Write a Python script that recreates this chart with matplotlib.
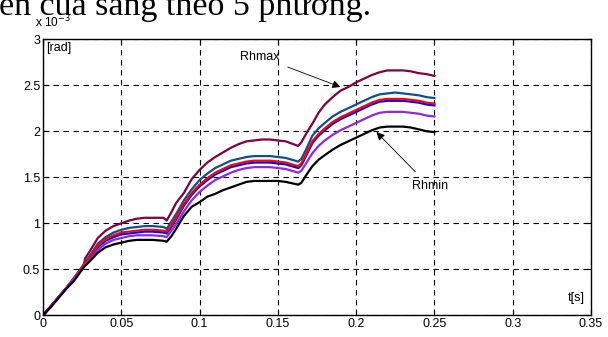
import matplotlib
matplotlib.use("Agg")
from matplotlib import pyplot as plt
import numpy as np

t = [0, .005, .01, .015, .02, .026, .027, .03, .035, .04, .045, .05, .055, .06, .065, .07,
     .077, .079, .082, .085, .09, .095, .1, .105, .11, .115, .12, .125, .13, .135, .14, .145,
     .15, .155, .163, .165, .168, .172, .176, .18, .185, .19, .195, .2, .205, .21, .215, .22,
     .225, .23, .235, .24, .245, .25]

rh_max = [0, .1, .2, .3, .4, .55, .62, .70, .84, .92, .97, 1.0, 1.03, 1.05, 1.06, 1.06,
          1.06, 1.03, 1.12, 1.22, 1.33, 1.48, 1.58, 1.66, 1.72, 1.77, 1.82, 1.86, 1.89, 1.90,
          1.91, 1.91, 1.90, 1.89, 1.84, 1.88, 1.97, 2.08, 2.20, 2.29, 2.37, 2.44, 2.48, 2.53,
          2.57, 2.61, 2.64, 2.66, 2.66, 2.66, 2.65, 2.63, 2.62, 2.60]
rh_2 = [0, .1, .2, .3, .41, .55, .58, .65, .78, .85, .90, .93, .95, .96, .97, .97,
        .96, .94, 1.02, 1.10, 1.25, 1.37, 1.47, 1.54, 1.60, 1.64, 1.68, 1.70, 1.72, 1.73,
        1.73, 1.73, 1.72, 1.71, 1.67, 1.70, 1.80, 1.95, 2.03, 2.09, 2.16, 2.21, 2.25, 2.29,
        2.33, 2.37, 2.40, 2.41, 2.42, 2.41, 2.40, 2.39, 2.37, 2.36]
rh_3 = [0, .1, .2, .3, .41, .55, .57, .63, .76, .83, .87, .90, .91, .92, .93, .93,
        .92, .91, .98, 1.06, 1.21, 1.33, 1.42, 1.49, 1.55, 1.59, 1.63, 1.65, 1.67, 1.68,
        1.68, 1.68, 1.67, 1.66, 1.62, 1.65, 1.75, 1.89, 1.97, 2.03, 2.10, 2.15, 2.19, 2.23,
        2.27, 2.31, 2.34, 2.35, 2.35, 2.35, 2.34, 2.33, 2.31, 2.30]
rh_4 = [0, .1, .2, .3, .41, .54, .56, .62, .74, .81, .85, .88, .89, .90, .91, .91,
        .90, .89, .96, 1.04, 1.19, 1.31, 1.40, 1.47, 1.53, 1.57, 1.61, 1.63, 1.65, 1.66,
        1.66, 1.66, 1.65, 1.64, 1.60, 1.63, 1.73, 1.87, 1.95, 2.01, 2.08, 2.13, 2.17, 2.21,
        2.25, 2.29, 2.32, 2.33, 2.33, 2.33, 2.32, 2.31, 2.29, 2.28]
rh_5 = [0, .1, .2, .3, .40, .53, .55, .60, .71, .78, .82, .84, .86, .87, .87, .87,
        .86, .85, .92, .99, 1.13, 1.25, 1.34, 1.41, 1.47, 1.51, 1.55, 1.58, 1.60, 1.61,
        1.61, 1.61, 1.60, 1.59, 1.55, 1.57, 1.65, 1.76, 1.84, 1.90, 1.96, 2.01, 2.05, 2.09,
        2.13, 2.17, 2.20, 2.21, 2.21, 2.21, 2.20, 2.19, 2.17, 2.16]
rh_min = [0, .09, .19, .29, .38, .52, .54, .59, .68, .74, .77, .79, .81, .82, .82, .82,
          .81, .80, .86, .94, 1.08, 1.18, 1.23, 1.29, 1.32, 1.36, 1.39, 1.42, 1.45, 1.46,
          1.46, 1.46, 1.46, 1.45, 1.42, 1.44, 1.52, 1.62, 1.69, 1.74, 1.80, 1.85, 1.89, 1.93,
          1.97, 2.01, 2.04, 2.05, 2.05, 2.05, 2.04, 2.02, 2.00, 1.99]

plt.rcParams["font.family"] = "Liberation Sans"
plt.rcParams["font.size"] = 9

fig = plt.figure(figsize=(6.08, 3.37), dpi=100)
ax = fig.add_axes([0.0707, 0.064, 0.9013, 0.82])

t = np.array(t)
ax.plot(t, np.array(rh_max) * 1e-3, color="#800040", lw=1.6)
ax.plot(t, np.array(rh_2) * 1e-3, color="#0f4f8f", lw=1.6)
ax.plot(t, np.array(rh_4) * 1e-3, color="#0000ff", lw=1.6)
ax.plot(t, np.array(rh_3) * 1e-3, color="#ff0000", lw=1.6)
ax.plot(t, np.array(rh_5) * 1e-3, color="#8a2be2", lw=1.6)
ax.plot(t, np.array(rh_min) * 1e-3, color="black", lw=1.6)

ax.set_xlim(0, 0.35)
ax.set_ylim(0, 3e-3)
ax.set_xticks(np.arange(0, 0.351, 0.05))
ax.set_xticklabels(["0", "0.05", "0.1", "0.15", "0.2", "0.25", "0.3", "0.35"])
ax.set_yticks(np.arange(0, 3.01e-3, 0.5e-3))
ax.set_yticklabels(["0", "0.5", "1", "1.5", "2", "2.5", "3"])
ax.tick_params(direction="in", top=True, right=True, length=4, width=0.8, pad=2)
ax.grid(True, color="black", linestyle=(0, (5, 4)), lw=0.8)
for s in ax.spines.values():
    s.set_linewidth(1.0)

ax.text(0.002, 2.97e-3, "[rad]", ha="left", va="top")
ax.text(0.346, 0.12e-3, "t[s]", ha="right", va="bottom")
fig.text(0.058, 0.91, r"x 10$^{-3}$", ha="left", va="bottom", fontsize=8.5)

ax.annotate("Rhmax", xy=(0.19, 2.48e-3), xytext=(0.1386, 2.81e-3), ha="center", va="center",
            arrowprops=dict(arrowstyle="-|>", color="black", lw=0.6, shrinkA=4, shrinkB=0,
                            mutation_scale=12))
ax.annotate("Rhmin", xy=(0.213, 1.99e-3), xytext=(0.247, 1.40e-3), ha="center", va="center",
            arrowprops=dict(arrowstyle="-|>", color="black", lw=0.6, shrinkA=6, shrinkB=0,
                            mutation_scale=12))

fig.text(-0.002, 0.955, "ến của sàng theo 5 phương.", family="Liberation Serif", fontsize=24.5,
         ha="left", va="baseline")

fig.savefig("out.png", dpi=100)
